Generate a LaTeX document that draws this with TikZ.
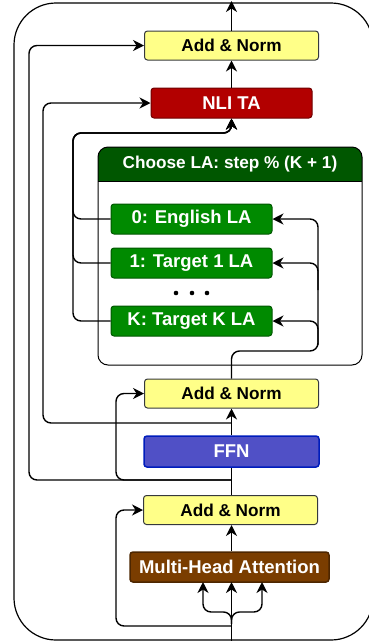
\documentclass[tikz,border=0pt]{standalone}
\usepackage{fontspec}
\setmainfont{Liberation Sans}
\usepackage{tikz}
\usetikzlibrary{arrows.meta}

\definecolor{normfill}{HTML}{FFFF88}
\definecolor{normline}{HTML}{36393D}
\definecolor{tafill}{HTML}{B20000}
\definecolor{taline}{HTML}{6F0000}
\definecolor{lafill}{HTML}{008A00}
\definecolor{laline}{HTML}{005700}
\definecolor{ffnfill}{HTML}{5050C6}
\definecolor{ffnline}{HTML}{001DBC}
\definecolor{attfill}{HTML}{7A3D00}
\definecolor{attline}{HTML}{4D2600}

\tikzset{
  blk/.style={draw, line width=1pt, rounded corners=3pt, inner sep=0pt,
    font=\bfseries\fontsize{18.5}{21}\selectfont},
  normblk/.style={blk, fill=normfill, draw=normline, minimum width=174pt, minimum height=29pt,
    font=\bfseries\fontsize{17.2}{20}\selectfont},
  tablk/.style={blk, fill=tafill, draw=taline, text=white, minimum width=161pt, minimum height=30pt},
  lablk/.style={blk, fill=lafill, draw=laline, text=white, minimum width=161pt, minimum height=30pt},
  ffnblk/.style={blk, fill=ffnfill, draw=ffnline, line width=1.5pt, text=white, minimum width=175pt, minimum height=31pt},
  attblk/.style={blk, fill=attfill, draw=attline, line width=1.5pt, text=white, minimum width=199pt, minimum height=30pt},
  wire/.style={line width=1.4pt, rounded corners=8pt},
  arr/.style={wire, -{Stealth[length=11pt,width=11pt,inset=3.5pt]}}
}

\begin{document}
\begin{tikzpicture}[x=1pt,y=-1pt]
   \def\cx{231.5} % centre line of the stack
   \def\rail{318} % right rail feeding the LAs
   \useasboundingbox (0,0) rectangle (369,641);
   \clip (0,0) rectangle (369,641);
   % outer frame of the layer
   \draw[line width=1.2pt, rounded corners=42pt] (14,3) rectangle (373,640);
   % container for the language adapters
   \fill[laline] (98,181) [rounded corners=10pt]-- (98,147) -- (362,147) [sharp corners]-- (362,181) -- cycle;
   \draw[line width=1pt] (98,181) -- (362,181);
   \draw[line width=1pt, rounded corners=10pt] (98,147) rectangle (362,365);
   \node[text=white, font=\bfseries\fontsize{17.2}{20}\selectfont] (choose) at (230,164) {Choose LA: step \% (K + 1)};
   % blocks, bottom to top
   \node[attblk] (mha) at (229.5,567) {Multi-Head Attention};
   \node[normblk] (addbot) at (230.5,510) {Add \& Norm};
   \node[ffnblk] (ffn) at (231.5,451.5) {FFN};
   \node[normblk] (addmid) at (231.5,393.5) {Add \& Norm};
   \node[lablk] (laK) at (191.5,321) {K: Target K LA};
   \node[lablk] (la1) at (191.5,263) {1: Target 1 LA};
   \node[lablk] (la0) at (191.5,219) {0: English LA};
   \node[tablk] (nli) at (231.5,103) {NLI TA};
   \node[normblk] (addtop) at (231.5,45.5) {Add \& Norm};
   % three dots between the adapters
   \foreach \x in {176,192,207}
   \fill (\x,293) circle (2.3pt);
   % free ends and split points
   \coordinate (in) at (\cx,641);
   \coordinate (split1) at (\cx,626);
   \coordinate (split2) at (\cx,480);
   \coordinate (split3) at (\cx,423);
   \coordinate (nliin) at (\cx,133);
   \coordinate (out) at (\cx,1);
   % input into attention (q, k, v)
   \draw[arr] (in) -- (\cx,582);
   \draw[arr] (\cx,624) -- (\cx,612) -| (203,582);
   \draw[arr] (\cx,624) -- (\cx,612) -| (262,582);
   \draw[arr] (split1) -- (116,626) |- (addbot.west);
   \draw[arr] (mha.north -| \cx,0) -- (addbot.south -| \cx,0);
   % feed forward
   \draw[wire] (addbot.north -| \cx,0) -- (ffn.south);
   \draw[arr] (split2) -- (116,480) |- (addmid.west);
   \draw[arr] (split2) -- (29,480) |- (addtop.west);
   \draw[arr] (ffn.north) -- (addmid.south);
   \draw[arr] (split3) -- (43,423) |- (nli.west);
   % into the adapters
   \draw[arr] (addmid.north) -- (\cx,351) -- (\rail,351) |- (la0.east);
   \draw[arr] (\rail,290) |- (la1.east);
   \draw[arr] (\rail,345) |- (laK.east);
   % out of the adapters
   \draw[arr] (la0.west) -- (73,219) |- (nliin) -- (nli.south);
   \draw[arr] (la1.west) -- (73,263) |- (nliin) -- (nli.south);
   \draw[arr] (laK.west) -- (73,321) |- (nliin) -- (nli.south);
   % task adapter to output
   \draw[arr] (nli.north) -- (addtop.south);
   \draw[arr] (addtop.north) -- (out);
\end{tikzpicture}
\end{document}
